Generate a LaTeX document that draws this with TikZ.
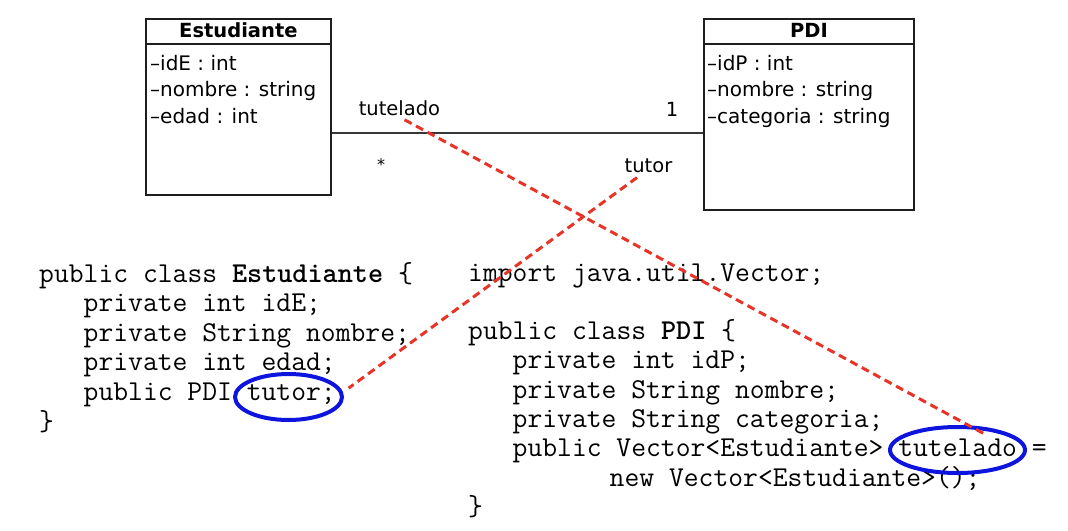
\documentclass[tikz,border=0pt]{standalone}
\usepackage{fontspec}
\setmainfont{DejaVu Sans}
\usepackage{tikz}
\usetikzlibrary{shapes.geometric,positioning}

\definecolor{umlblack}{RGB}{30,30,30}
\definecolor{umlline}{RGB}{55,55,55}
\definecolor{linkred}{RGB}{232,52,40}
\definecolor{markblue}{RGB}{12,20,222}

\begin{document}
\begin{tikzpicture}[x=1pt, y=-1pt,
  classbox/.style={draw=umlblack, line width=1.8pt, inner sep=0pt, anchor=north west},
  classname/.style={font=\fontsize{19.5}{23}\selectfont\bfseries, inner sep=0pt, text height=14.8pt, text depth=0pt},
  attrlist/.style={font=\fontsize{20}{26.7}\selectfont, inner sep=0pt, anchor=base west},
  rolelabel/.style={font=\fontsize{19.5}{23}\selectfont, inner sep=2pt},
  codeblock/.style={font=\ttfamily\fontsize{28.8}{#1}\selectfont, inner sep=0pt, anchor=base west},
  hilite/.style={ellipse, draw=markblue, line width=4pt, inner sep=0pt},
  linkline/.style={draw=linkred, line width=3pt, dash pattern=on 8pt off 5pt}]
  \useasboundingbox (0,0) rectangle (1068,530);

  % clases UML
  \node[classbox, minimum width=185pt, minimum height=176pt] (est) at (145,18) {};
  \node[classname, below=4.5pt of est.north] (estname) {Estudiante};
  \draw[umlblack, line width=1.8pt] ([yshift=-26pt]est.north west) -- ([yshift=-26pt]est.north east);
  \node[attrlist] (estattr) at (150,70) {\begin{tabular}[t]{@{}l@{}}–idE : int\\–nombre : string\\–edad : int\end{tabular}};

  \node[classbox, minimum width=210pt, minimum height=191pt] (pdi) at (703,18) {};
  \node[classname, below=4.5pt of pdi.north] (pdiname) {PDI};
  \draw[umlblack, line width=1.8pt] ([yshift=-26pt]pdi.north west) -- ([yshift=-26pt]pdi.north east);
  \node[attrlist] (pdiattr) at (707,70) {\begin{tabular}[t]{@{}l@{}}–idP : int\\–nombre : string\\–categoria : string\end{tabular}};

  % asociacion
  \coordinate (assoc) at (0,133);
  \draw[umlline, line width=1.5pt] (est.east |- assoc) -- (pdi.west |- assoc);
  \node[rolelabel] (lbltutelado) at (399.5,108.6) {tutelado};
  \node[rolelabel] (lblone) at (672,109) {1};
  \node[rolelabel, font=\fontsize{16}{19}\selectfont] (lblmany) at (381,165) {*};
  \node[rolelabel] (lbltutor) at (648.5,166) {tutor};

  % codigo java
  \node[codeblock=29.6pt] (estcode) at (39,282) {\begin{tabular}[t]{@{}l@{}}
    public class \textbf{Estudiante} \{\\
    \ \ \ private int idE;\\
    \ \ \ private String nombre;\\
    \ \ \ private int edad;\\
    \ \ \ public PDI tutor;\\
    \}
  \end{tabular}};
  \node[codeblock=29.3pt] (pdicode) at (468,281) {\begin{tabular}[t]{@{}l@{}}
    import java.util.Vector;\\
    \\
    public class \textbf{PDI} \{\\
    \ \ \ private int idP;\\
    \ \ \ private String nombre;\\
    \ \ \ private String categoria;\\
    \ \ \ public Vector<Estudiante> tutelado =\\
    \ \ \ \hspace*{97pt}new Vector<Estudiante>();\\
    \}
  \end{tabular}};

  % marcas
  \node[hilite, minimum width=107pt, minimum height=46pt] (circtutor) at (288.5,397) {};
  \node[hilite, minimum width=135pt, minimum height=46pt] (circtutelado) at (957.5,450) {};

  \draw[linkline, shorten <=3pt, shorten >=-18pt] (lbltutelado.284) -- (circtutelado.66);
  \draw[linkline, shorten <=4pt, shorten >=7pt] (lbltutor.228) -- (circtutor.5);
\end{tikzpicture}
\end{document}
